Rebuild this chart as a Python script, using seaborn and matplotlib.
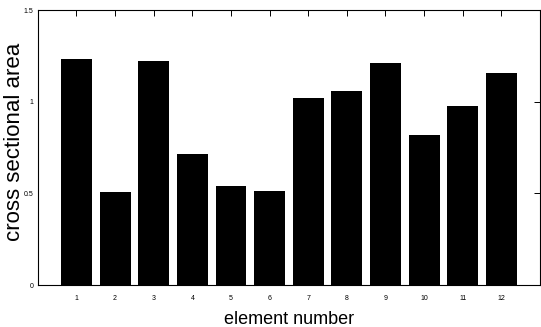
import matplotlib
matplotlib.use("Agg")
import matplotlib.pyplot as plt
import seaborn as sns
import pandas as pd

elements = ["1", "2", "3", "4", "5", "6", "7", "8", "9", "10", "11", "12"]
areas = [1.235, 0.51, 1.22, 0.713, 0.539, 0.512, 1.02, 1.059, 1.213, 0.817, 0.978, 1.158]
yticks = [0, 0.5, 1, 1.5]
ytick_labels = ["0", "0.5", "1", "1.5"]

sns.set_theme(style="white")
plt.rcParams['font.family'] = ['Liberation Sans', 'DejaVu Sans']

df = pd.DataFrame({"element": elements, "area": areas})

fig = plt.figure(figsize=(5.41, 3.27), dpi=100)
ax = fig.add_axes([0.070, 0.128, 0.928, 0.841])
sns.barplot(data=df, x="element", y="area", color="black", saturation=1,
            width=0.8, ax=ax, order=elements)
for p in ax.patches:
    p.set_edgecolor("black")
    p.set_linewidth(0)

ax.set_xlim(-1, 12)
ax.set_ylim(0, 1.5)
ax.set_yticks(yticks)
ax.set_yticklabels(ytick_labels)
for s in ax.spines.values():
    s.set_visible(True)
    s.set_color("black")
    s.set_linewidth(0.8)
ax.tick_params(axis="both", direction="in", top=True, right=True, length=4,
               width=0.7, labelsize=5, color="black", labelcolor="black")
ax.tick_params(axis="x", pad=7)
ax.tick_params(axis="y", pad=3)
ax.set_xlabel("element number", fontsize=13, color="black")
ax.set_ylabel("cross sectional area", fontsize=16, color="black")
ax.yaxis.set_label_coords(-0.026, 0.52)
ax.xaxis.set_label_coords(0.5, -0.095)
fig.savefig("out.png", dpi=100)
